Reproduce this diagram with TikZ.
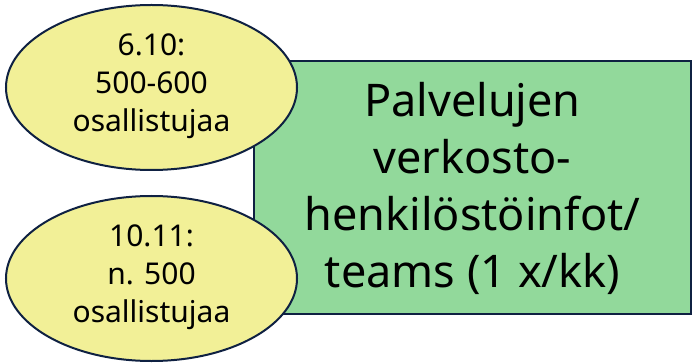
\documentclass[tikz,border=0pt]{standalone}
\usepackage{fontspec}
\setmainfont{Noto Sans}
\usetikzlibrary{shapes.geometric}
\definecolor{yel}{HTML}{F2F097}
\definecolor{grn}{HTML}{92D99B}
\definecolor{edge}{HTML}{0F2142}
\begin{document}
\begin{tikzpicture}[x=1pt,y=-1pt,
  ell/.style={draw=edge,line width=2pt,fill=yel},
  box/.style={draw=edge,line width=2pt,fill=grn},
  etext/.style={align=center,font=\fontsize{30}{38}\selectfont},
  btext/.style={align=center,font=\fontsize{45}{57}\selectfont}]
\useasboundingbox (0,0) rectangle (692,363);
\draw[box] (254,61) rectangle (691,314);
\node[btext] (main) at (472.5,188) {Palvelujen\\verkosto-\\henkilöstöinfot/\\teams (1 x/kk)};
\draw[ell] (151.5,87.5) ellipse [x radius=145.5, y radius=82.5];
\node[etext] (e1) at (151.5,86) {6.10:\\500-600\\osallistujaa};
\draw[ell] (151.5,278.5) ellipse [x radius=145.5, y radius=82.5];
\node[etext] (e2) at (151.5,277) {10.11:\\n. 500\\osallistujaa};
\end{tikzpicture}
\end{document}
